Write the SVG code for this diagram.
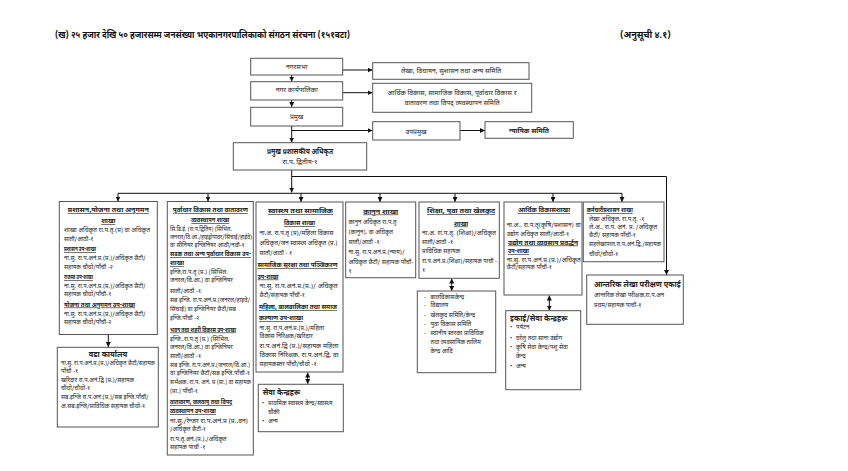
<svg xmlns="http://www.w3.org/2000/svg" width="848" height="471" viewBox="0 0 848 471">
<style>
text{font-family:"Noto Sans Devanagari","Noto Sans","DejaVu Sans",sans-serif;fill:#222;}
.b{fill:#fff;stroke:#555;stroke-width:1;}
.t{font-size:6px;}
.m{font-size:6.8px;text-anchor:middle;}
.h{font-size:6.3px;font-weight:bold;text-decoration:underline;}
.hc{font-size:6.3px;font-weight:bold;text-decoration:underline;text-anchor:middle;}
.k{font-size:7.5px;font-weight:bold;}
.ti{font-size:9px;font-weight:bold;fill:#111;}
.c{stroke:#111;stroke-width:1;fill:none;}
</style>
<defs>
<marker id="a" viewBox="0 0 6 6" refX="6" refY="3" markerWidth="5" markerHeight="5" orient="auto-start-reverse"><path d="M0,0 L6,3 L0,6 z" fill="#111"/></marker>
</defs>

<text class="ti" x="55" y="38" textLength="295" lengthAdjust="spacingAndGlyphs">(ख) २५ हजार देखि ५० हजारसम्म जनसंख्या भएकानगरपालिकाको संगठन संरचना  (१५१वटा)</text>
<text class="ti" x="620" y="38">(अनुसूची ४.१)</text>

<g id="connectors">
<path class="c" d="M291.7 75 V81.5" marker-end="url(#a)"/>
<path class="c" d="M291.7 100 V107" marker-end="url(#a)"/>
<path class="c" d="M291.7 126 V142.5" marker-end="url(#a)"/>
<path class="c" d="M342.7 70 H372.5" marker-end="url(#a)"/>
<path class="c" d="M342.7 92.7 H372.5" marker-end="url(#a)"/>
<path class="c" d="M291.7 130.5 H372.5" marker-end="url(#a)"/>
<path class="c" d="M460 130.5 H485" marker-end="url(#a)"/>
<path class="c" d="M291.7 170 V192.5" marker-end="url(#a)"/>
<path class="c" d="M291.7 176.5 H666.5 V275" marker-end="url(#a)"/>
<path class="c" d="M118 193.3 H622"/>
<path class="c" d="M118 193.3 V201.5" marker-end="url(#a)"/>
<path class="c" d="M208 193.3 V201.5" marker-end="url(#a)"/>
<path class="c" d="M301 193.3 V202" marker-end="url(#a)"/>
<path class="c" d="M380 193.3 V202" marker-end="url(#a)"/>
<path class="c" d="M455 193.3 V202" marker-end="url(#a)"/>
<path class="c" d="M553 193.3 V202" marker-end="url(#a)"/>
<path class="c" d="M622 193.3 V202" marker-end="url(#a)"/>
<path class="c" d="M108.3 334.5 V347" marker-end="url(#a)"/>
<path class="c" d="M451.7 278.5 V291" marker-start="url(#a)" marker-end="url(#a)"/>
<path class="c" d="M549.3 295.5 V310.5" marker-start="url(#a)" marker-end="url(#a)"/>
<path class="c" d="M307.7 372.5 V384" marker-start="url(#a)" marker-end="url(#a)"/>
</g>

<g id="nagarsabha"><rect class="b" x="250.7" y="58.3" width="92" height="16.7"/><text class="m" x="296.7" y="69">नगरसभा</text></g>
<g id="karyapalika"><rect class="b" x="250.7" y="81.7" width="92" height="18.3"/><text class="m" x="296.7" y="91.5">नगर कार्यपालिका</text></g>
<g id="pramukh"><rect class="b" x="250.7" y="107.3" width="92" height="18.7"/><text class="m" x="296.7" y="119">प्रमुख</text></g>
<g id="lekha-samiti"><rect class="b" x="372.7" y="62.7" width="156.3" height="16.6"/><text class="m" x="451" y="73.3">लेखा, विधायन, सुशासन तथा अन्य समिति</text></g>
<g id="arthik-samiti"><rect class="b" x="372.7" y="83.3" width="159" height="29"/><text class="m" x="452" y="94.5">आर्थिक विकास, सामाजिक विकास, पूर्वाधार विकास र</text><text class="m" x="452" y="104.5">वातावरण तथा विपद् व्यवस्थापन समिति</text></g>
<g id="upapramukh"><rect class="b" x="372.7" y="121.7" width="87.3" height="18.3"/><text class="m" x="416" y="133.5">उपप्रमुख</text></g>
<g id="nyayik"><rect class="b" x="485" y="121.7" width="88.3" height="16.6"/><text class="m" x="529" y="132.5" font-weight="bold">न्यायिक समिति</text></g>
<g id="cao"><rect class="b" x="233.3" y="142.7" width="133.4" height="27.3"/><text class="m" x="300" y="154" font-weight="bold" style="font-size:7.2px" textLength="66" lengthAdjust="spacingAndGlyphs">प्रमुख प्रशासकीय अधिकृत</text><text class="m" x="300" y="164">रा.प. द्वितीय-१</text></g>

<g id="prashasan">
<rect class="b" x="59.3" y="201.5" width="98" height="133"/>
<text class="hc" x="108.3" y="212" textLength="81" lengthAdjust="spacingAndGlyphs">प्रशासन,योजना तथा अनुगमन</text>
<text class="hc" x="108.3" y="223">शाखा</text>
<text class="t" x="64" y="232" textLength="86" lengthAdjust="spacingAndGlyphs">शाखा अधिकृत रा.प.तृ.(प्र) वा अधिकृत</text>
<text class="t" x="64" y="240.5">सातौं/आठौं-१</text>
<text class="h" x="64" y="251" textLength="32" lengthAdjust="spacingAndGlyphs">प्रशासन उप-शाखा</text>
<text class="t" x="64" y="260">ना.सु. रा.प.अनं.प्र.(प्र.)/अधिकृत छैटौं/</text>
<text class="t" x="64" y="268.5">सहायक चौथो/पाँचौं -२</text>
<text class="h" x="64" y="279" textLength="29" lengthAdjust="spacingAndGlyphs">राजस्व उप-शाखा</text>
<text class="t" x="64" y="287.5">ना.सु. रा.प.अनं.प्र.(प्र.)/अधिकृत छैटौं/</text>
<text class="t" x="64" y="296">सहायक चौथो/पाँचौं-१</text>
<text class="h" x="64" y="306.5" textLength="71" lengthAdjust="spacingAndGlyphs">योजना तथा अनुगमन उप-शाखा</text>
<text class="t" x="64" y="315.5">ना.सु. रा.प.अनं.प्र.(प्र.)/अधिकृत छैटौं/</text>
<text class="t" x="64" y="324">सहायक चौथो/पाँचौं-२</text>
</g>

<g id="wada">
<rect class="b" x="57.3" y="347.3" width="101" height="79.7"/>
<text class="m" x="108" y="357" font-weight="bold" style="font-size:7.5px">वडा कार्यालय</text>
<text class="t" x="61" y="365" textLength="94" lengthAdjust="spacingAndGlyphs">ना.सु. रा.प.अनं.प्र.(प्र.)/अधिकृत छैटौं/सहायक</text>
<text class="t" x="61" y="373.3">पाँचौं -१</text>
<text class="t" x="61" y="382">खरिदार रा.प.अनं.द्वि (प्र.)/सहायक</text>
<text class="t" x="61" y="390">चौथो/चौथो-१</text>
<text class="t" x="61" y="399">सब.इन्जि रा.प.अनं.(प्र.)/सब इन्जि.पाँचौं/</text>
<text class="t" x="61" y="408">अ.सब.इन्जि/प्राविधिक सहायक चौथो-१</text>
</g>

<g id="purbadhar">
<rect class="b" x="167.3" y="201.5" width="86" height="253.5"/>
<text class="hc" x="210.3" y="212" textLength="75" lengthAdjust="spacingAndGlyphs">पूर्वाधार विकास तथा वातावरण</text>
<text class="hc" x="210.3" y="222" textLength="38" lengthAdjust="spacingAndGlyphs">व्यवस्थापन शाखा</text>
<text class="t" x="170" y="230.5" textLength="62" lengthAdjust="spacingAndGlyphs">सि.डि.ई. (रा.प.द्वितिय) (सिभिल,</text>
<text class="t" x="170" y="238.5" textLength="82" lengthAdjust="spacingAndGlyphs">जनरल/वि.आ./हाइड्रोपावर/सिंचाई/हाईवे)</text>
<text class="t" x="170" y="246.5">वा सीनियर इन्जिनियर आठौं/नवौं-१</text>
<text class="h" x="170" y="256" textLength="81" lengthAdjust="spacingAndGlyphs">सडक तथा अन्य पूर्वाधार विकास उप-</text>
<text class="h" x="170" y="265">शाखा</text>
<text class="t" x="170" y="273.5">इन्जि,रा.प.तृ (प्र.) (सिभिल,</text>
<text class="t" x="170" y="282">जनरल/वि.आ.) वा इन्जिनियर</text>
<text class="t" x="170" y="293">सातौं/आठौं -१</text>
<text class="t" x="170" y="302" textLength="80" lengthAdjust="spacingAndGlyphs">सब इन्जि. रा.प.अनं.प्र.(जनरल/हाइवे/</text>
<text class="t" x="170" y="311">सिंचाई) वा इन्जिनियर छैटौं/सब</text>
<text class="t" x="170" y="320">इन्जि.पाँचौं -२</text>
<text class="h" x="170" y="331.5" textLength="66" lengthAdjust="spacingAndGlyphs">भवन तथा शहरी विकास उप-शाखा</text>
<text class="t" x="170" y="340.5">इन्जि.,रा.प.तृ (प्र.) (सिभिल,</text>
<text class="t" x="170" y="349">जनरल/वि.आ.) वा इन्जिनियर</text>
<text class="t" x="170" y="357.5">सातौं/आठौं -१</text>
<text class="t" x="170" y="366.5" textLength="80" lengthAdjust="spacingAndGlyphs">सब इन्जि. रा.प.अनं.प्र.(जनरल/वि.आ.)</text>
<text class="t" x="170" y="375" textLength="80" lengthAdjust="spacingAndGlyphs">वा इन्जिनियर छैटौं/सब इन्जि.पाँचौं-१</text>
<text class="t" x="170" y="384" textLength="81" lengthAdjust="spacingAndGlyphs">सर्भेक्षक, रा.प. अनं. प्र (प्रा.) वा सहायक</text>
<text class="t" x="170" y="393">(प्रा.) पाँचौं-१</text>
<text class="h" x="170" y="404" textLength="62" lengthAdjust="spacingAndGlyphs">वातावरण, जलवायु तथा विपद्</text>
<text class="h" x="170" y="413" textLength="46" lengthAdjust="spacingAndGlyphs">व्यवस्थापन उप-शाखा</text>
<text class="t" x="170" y="422.5" textLength="78" lengthAdjust="spacingAndGlyphs">ना.सु./रेन्जर रा.प.अनं.प्र (प्र.,वन)</text>
<text class="t" x="170" y="431">/अधिकृत छैटौं-१</text>
<text class="t" x="170" y="440.5">रा.प.तृ,अनं,(प्र.),/अधिकृत</text>
<text class="t" x="170" y="449">सहायक पाचौं -१</text>
</g>

<g id="swasthya">
<rect class="b" x="256" y="202" width="87" height="170"/>
<text class="hc" x="300.5" y="213" textLength="65" lengthAdjust="spacingAndGlyphs">स्वास्थ्य तथा सामाजिक</text>
<text class="hc" x="299.5" y="225" textLength="31" lengthAdjust="spacingAndGlyphs">विकास शाखा</text>
<text class="t" x="259.5" y="234.5" textLength="74" lengthAdjust="spacingAndGlyphs">ना.अ. रा.प.तृ (प्र)/महिला विकास</text>
<text class="t" x="259.5" y="244.5" textLength="78" lengthAdjust="spacingAndGlyphs">अधिकृत/जन स्वास्थ्य अधिकृत (प्र.)</text>
<text class="t" x="259.5" y="254.5">सातौं/आठौं - १</text>
<text class="h" x="257.5" y="267" textLength="80" lengthAdjust="spacingAndGlyphs">सामाजिक सुरक्षा तथा पञ्जिकरण</text>
<text class="h" x="257.5" y="278.5" textLength="21" lengthAdjust="spacingAndGlyphs">उप-शाखा</text>
<text class="t" x="259.5" y="288" textLength="78" lengthAdjust="spacingAndGlyphs">ना.सु. रा.प.अनं.प्र.(प्र.)/ अधिकृत</text>
<text class="t" x="259.5" y="296.5">छैटौं/सहायक पाँचौं-१</text>
<text class="h" x="259" y="309" textLength="78" lengthAdjust="spacingAndGlyphs">महिला, बालबालिका तथा समाज</text>
<text class="h" x="259" y="320" textLength="44" lengthAdjust="spacingAndGlyphs">कल्याण उप-शाखा</text>
<text class="t" x="259.5" y="329.5">ना.सु. रा.प.अनं.प्र.(प्र.)/महिला</text>
<text class="t" x="259.5" y="338">विकास निरिक्षक/खरिदार</text>
<text class="t" x="259.5" y="347.5" textLength="79" lengthAdjust="spacingAndGlyphs">रा.प.अनं.द्वि (प्र.)/सहायक महिला</text>
<text class="t" x="259.5" y="356.5" textLength="79" lengthAdjust="spacingAndGlyphs">विकास निरिक्षक, रा.प.अनं.द्वि. वा</text>
<text class="t" x="259.5" y="366">सहायकस्तर पाँचौ/चौथो -१</text>
</g>

<g id="sewa-kendra">
<rect class="b" x="258.3" y="384.3" width="85" height="47.4"/>
<text class="k" x="262.7" y="395">सेवा केन्द्रहरू</text>
<text class="t" x="262" y="405">•</text><text class="t" x="268" y="405">प्राथमिक स्वास्थ्य केन्द्र/स्वास्थ्य</text>
<text class="t" x="268" y="413.5">चौकी</text>
<text class="t" x="262" y="423">•</text><text class="t" x="268" y="423">अन्य</text>
</g>

<g id="kanun">
<rect class="b" x="345.7" y="202" width="70" height="75.7"/>
<text class="hc" x="380.7" y="213.5" textLength="35" lengthAdjust="spacingAndGlyphs">कानुन शाखा</text>
<text class="t" x="348.5" y="223.5">कानुन अधिकृत रा.प.तृ</text>
<text class="t" x="348.5" y="234">(कानुन), वा अधिकृत</text>
<text class="t" x="348.5" y="244">सातौं/आठौं -१</text>
<text class="t" x="348.5" y="254">ना.सु. रा.प.अनं.प्र.(न्याय)/</text>
<text class="t" x="348.5" y="263.5" textLength="65" lengthAdjust="spacingAndGlyphs">अधिकृत छैटौं/ सहायक पाँचौं-</text>
<text class="t" x="348.5" y="272.5">१</text>
</g>

<g id="shiksha">
<rect class="b" x="419" y="202" width="80.3" height="76.3"/>
<text class="hc" x="461" y="213" textLength="68" lengthAdjust="spacingAndGlyphs">शिक्षा, युवा तथा खेलकुद</text>
<text class="hc" x="461" y="225.5">शाखा</text>
<text class="t" x="422" y="234.5" textLength="74" lengthAdjust="spacingAndGlyphs">ना.अ. रा.प.तृ. (शिक्षा)/अधिकृत</text>
<text class="t" x="422" y="244">सातौं/आठौं -१</text>
<text class="t" x="422" y="252.5">प्राविधिक सहायक</text>
<text class="t" x="422" y="262.5" textLength="75" lengthAdjust="spacingAndGlyphs">रा.प.अनं.प्र.(शिक्षा)/सहायक पाचौं -</text>
<text class="t" x="422" y="271.5">१</text>
</g>

<g id="shiksha-list">
<rect class="b" x="417.3" y="291" width="78.4" height="81.7"/>
<text class="t" x="424" y="299">-</text><text class="t" x="430.5" y="299">बालविकासकेन्द्र</text>
<text class="t" x="424" y="307">-</text><text class="t" x="430.5" y="307">विद्यालय</text>
<text class="t" x="424" y="317">-</text><text class="t" x="430.5" y="317">खेलकुद समिति/केन्द्र</text>
<text class="t" x="424" y="325.5">-</text><text class="t" x="430.5" y="325.5">युवा विकास समिति</text>
<text class="t" x="424" y="334.5">-</text><text class="t" x="430.5" y="334.5">स्थानीय स्तरका प्राविधिक</text>
<text class="t" x="430.5" y="343.5">तथा व्यवसायिक तालिम</text>
<text class="t" x="430.5" y="353">केन्द्र आदि</text>
</g>

<g id="arthik">
<rect class="b" x="504" y="202" width="78" height="93"/>
<text class="hc" x="544" y="212" textLength="52" lengthAdjust="spacingAndGlyphs">आर्थिक विकासशाखा</text>
<text class="t" x="506.7" y="226.5" textLength="74" lengthAdjust="spacingAndGlyphs">ना.अ., रा.प.तृ(कृषि/प्रशासन) वा</text>
<text class="t" x="506.7" y="235.5">उद्योग अधिकृत सातौं/आठौं-१</text>
<text class="h" x="508" y="244.5" textLength="70" lengthAdjust="spacingAndGlyphs">उद्योग तथा व्यवसाय प्रवर्द्धन</text>
<text class="h" x="508" y="253" textLength="21" lengthAdjust="spacingAndGlyphs">उप-शाखा</text>
<text class="t" x="506.7" y="261.5" textLength="74" lengthAdjust="spacingAndGlyphs">ना.सु. रा.प.अनं.प्र.(प्र.)/अधिकृत</text>
<text class="t" x="506.7" y="269">छैटौं/सहायक पाँचौं-१</text>
</g>

<g id="ikai">
<rect class="b" x="505.7" y="310.7" width="75" height="79"/>
<text class="k" x="510" y="321">इकाई/सेवा केन्द्रहरू</text>
<text class="t" x="510" y="329">•</text><text class="t" x="516" y="329">पर्यटन</text>
<text class="t" x="510" y="340">•</text><text class="t" x="516" y="340">घरेलु तथा साना उद्योग</text>
<text class="t" x="510" y="349">•</text><text class="t" x="516" y="349">कृषि सेवा केन्द्र/पशु सेवा</text>
<text class="t" x="516" y="358">केन्द्र</text>
<text class="t" x="510" y="368">•</text><text class="t" x="516" y="368">अन्य</text>
</g>

<g id="karmachari">
<rect class="b" x="583.3" y="202" width="80.7" height="59.7"/>
<text class="h" x="586.7" y="212" textLength="46" lengthAdjust="spacingAndGlyphs">कर्मचारीप्रशासन शाखा</text>
<text class="t" x="589" y="220.5">लेखा अधिकृत, रा.प.तृ. -१</text>
<text class="t" x="589" y="228.5" textLength="68" lengthAdjust="spacingAndGlyphs">ले.अ., रा.प. अनं. प्र. /अधिकृत</text>
<text class="t" x="589" y="236.5">छैटौं/ सहायक पाँचौं-१</text>
<text class="t" x="589" y="246" textLength="72" lengthAdjust="spacingAndGlyphs">सहलेखापाल.रा.प.अनं.द्वि./सहायक</text>
<text class="t" x="589" y="255.5">चौथो/चौथो-१</text>
</g>

<g id="antarik">
<rect class="b" x="586.7" y="275" width="96.6" height="49.3"/>
<text class="k" x="594" y="287">आन्तरिक लेखा परीक्षण एकाई</text>
<text class="t" x="594" y="297">आन्तरिक लेखा परीक्षक,रा.प.अन</text>
<text class="t" x="594" y="307">प्रथम/सहायक पाचौं-१</text>
</g>
</svg>
